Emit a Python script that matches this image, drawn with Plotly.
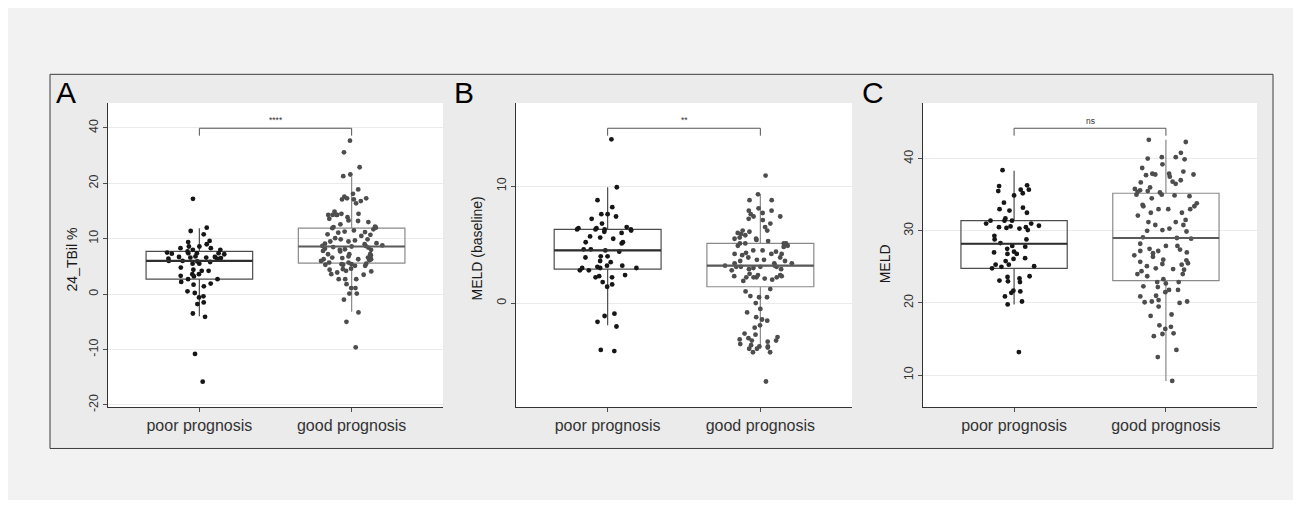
import plotly.graph_objects as go

# ---------------- data ----------------
categories = ["poor prognosis", "good prognosis"]

# Panel A: 24_TBil %
a_poor = [17.2, 12.0, 11.4, 10.8, 9.6, 9.4, 9.0, 8.6, 8.3, 8.6, 8.3, 8.0, 8.0, 7.5, 7.7,
          7.4, 7.3, 7.4, 7.2, 7.4, 6.8, 6.7, 6.5, 6.4, 6.6, 6.7, 6.6, 6.4, 5.9, 6.0,
          6.0, 5.5, 5.5, 5.8, 4.8, 4.2, 4.2, 4.4, 3.6, 3.6, 3.3, 3.2, 2.7, 2.7, 2.2,
          1.9, 1.4, 1.7, 0.5, 0.2, -0.6, -1.5, -0.4, -1.8, -3.5, -4.1, -10.8, -15.8]
a_good = [27.7, 25.6, 22.9, 21.6, 21.3, 18.9, 18.1, 17.6, 17.1, 17.3, 17.3, 17.1, 16.8,
          16.4, 14.9, 14.5, 14.5, 14.3, 14.3, 13.9, 14.3, 14.3, 13.3, 13.0, 13.6, 13.2,
          12.2, 12.6, 12.1, 11.7, 12.0, 11.9, 11.5, 11.1, 11.2, 10.8, 10.7, 11.3, 10.5,
          10.1, 9.9, 9.9, 9.7, 9.5, 9.1, 9.2, 9.5, 9.0, 8.6, 8.8, 8.5, 8.7, 8.4, 8.7,
          8.0, 7.8, 8.0, 7.7, 8.1, 8.2, 7.2, 7.0, 7.2, 6.8, 7.2, 6.6, 6.6, 6.3, 6.1,
          6.3, 6.5, 6.3, 6.0, 5.7, 5.7, 5.5, 5.4, 5.3, 5.4, 5.1, 5.3, 5.1, 4.2, 4.1,
          4.6, 4.4, 4.5, 3.9, 3.6, 3.5, 2.7, 2.7, 2.7, 1.8, 1.1, 1.1, 0.1, 0.1, -1.0,
          -3.3, -5.0, -9.6]
a_q1 = [2.7, 5.6]
a_median = [6.0, 8.6]
a_q3 = [7.7, 11.9]
a_lower = [-4.0, -3.2]
a_upper = [11.9, 21.2]
a_tickvals = [-20, -10, 0, 10, 20, 30]
a_ticktext = ["-20", "-10", "0", "10", "20", "40"]

# Panel B: MELD (baseline)
b_poor = [14.0, 9.9, 8.8, 8.2, 7.6, 7.6, 7.4, 7.2, 6.8, 6.5, 6.3, 6.3, 6.2, 6.3, 6.3,
          6.4, 6.4, 6.1, 6.0, 5.7, 5.5, 5.6, 5.2, 5.2, 5.1, 4.6, 4.5, 4.6, 4.4, 4.0,
          4.0, 3.9, 3.6, 3.5, 3.2, 3.2, 3.1, 2.8, 3.0, 3.0, 2.8, 3.0, 2.4, 2.3, 2.2,
          2.2, 1.8, 1.6, 1.4, -0.9, -1.1, -1.6, -2.0, -4.1, -4.0]
b_good = [10.9, 9.3, 8.8, 8.8, 8.1, 7.9, 7.9, 7.7, 7.6, 7.4, 7.4, 7.2, 7.1, 6.8, 6.5,
          6.2, 6.2, 6.1, 6.0, 5.9, 5.8, 5.5, 5.5, 5.4, 5.6, 5.3, 5.1, 5.1, 5.1, 4.9,
          5.1, 4.9, 4.8, 4.5, 4.4, 4.2, 4.1, 4.3, 4.2, 4.5, 4.2, 3.9, 3.9, 3.7, 3.7,
          3.4, 3.6, 3.6, 3.4, 3.4, 3.2, 3.2, 3.1, 2.9, 3.1, 3.0, 2.9, 3.1, 3.1, 2.8,
          2.4, 2.5, 2.4, 2.2, 2.3, 2.2, 2.3, 2.2, 2.1, 1.9, 2.0, 2.2, 1.2, 1.0, 0.6,
          0.5, 0.5, 0.0, -0.5, -0.8, -1.2, -1.5, -1.4, -1.9, -2.1, -2.6, -2.7, -2.9,
          -3.0, -3.1, -3.2, -3.2, -3.3, -3.5, -3.6, -3.8, -3.9, -4.2, -3.7, -3.7,
          -3.9, -4.2, -6.7]
b_q1 = [2.9, 1.4]
b_median = [4.5, 3.2]
b_q3 = [6.3, 5.1]
b_lower = [-1.9, -3.9]
b_upper = [9.9, 9.3]
b_tickvals = [0, 10]
b_ticktext = ["0", "10"]

# Panel C: MELD
c_poor = [38.4, 36.3, 36.2, 35.7, 35.2, 35.7, 35.5, 34.9, 33.9, 33.2, 33.0, 32.8, 32.5,
          31.7, 31.4, 31.4, 31.0, 31.4, 31.0, 30.5, 30.7, 30.6, 30.4, 30.5, 30.3, 30.1,
          29.3, 28.8, 28.8, 28.3, 27.8, 27.5, 27.9, 27.1, 26.8, 27.0, 26.8, 26.1, 26.2,
          25.8, 25.3, 25.3, 25.1, 24.8, 25.0, 23.7, 23.6, 23.4, 23.1, 23.0, 22.9, 21.6,
          21.7, 21.4, 20.9, 20.2, 19.8, 13.2]
c_good = [42.6, 42.3, 40.8, 40.2, 40.2, 40.0, 39.9, 39.2, 38.7, 38.2, 37.8, 37.9, 37.9,
          37.8, 37.7, 37.5, 37.0, 36.8, 36.7, 36.5, 36.0, 35.8, 35.6, 35.5, 35.3, 35.4,
          34.8, 34.9, 35.0, 35.0, 34.5, 33.8, 33.6, 33.4, 33.4, 33.0, 33.0, 33.0, 32.5,
          32.5, 32.1, 31.5, 31.2, 31.2, 30.8, 30.8, 30.3, 30.1, 30.0, 29.9, 29.1, 29.0,
          28.9, 28.2, 27.9, 27.9, 27.5, 27.2, 27.4, 27.0, 27.2, 26.9, 26.6, 26.4, 25.9,
          26.0, 25.7, 25.4, 25.5, 25.3, 25.1, 24.8, 24.7, 24.6, 24.4, 24.0, 24.0, 23.7,
          23.3, 22.9, 22.9, 22.7, 22.2, 21.8, 21.5, 22.3, 21.8, 21.0, 20.9, 20.4, 20.0,
          20.2, 20.1, 20.2, 19.5, 18.4, 18.2, 16.9, 16.7, 16.4, 15.8, 15.7, 15.4, 13.5,
          12.5, 9.2]
c_q1 = [24.8, 23.1]
c_median = [28.2, 29.0]
c_q3 = [31.4, 35.2]
c_lower = [19.8, 9.2]
c_upper = [38.3, 42.6]
c_tickvals = [10, 20, 30, 40]
c_ticktext = ["10", "20", "30", "40"]

panel_letters = ["A", "B", "C"]
y_titles = ["24_TBil %", "MELD (baseline)", "MELD"]
sig_labels = ["****", "**", "ns"]

# ---------------- styling / layout ----------------
OFF = 8                      # default page margin around the plot div
W, H = 1301 - OFF, 508 - 2 * OFF
FONT = "Liberation Sans, Arial, Helvetica, sans-serif"
point_colors = ["#161616", "#4d4d4d"]
box_colors = ["#4d4d4d", "#8a8a8a"]
median_colors = ["#2e2e2e", "#5a5a5a"]

def px_x(p):
    return (p - OFF) / W

def px_y(p):
    return 1 - (p - OFF) / H

x_domains = [(108, 443), (516, 852), (923, 1257)]
y_domain = [px_y(411), px_y(104)]
y_ranges = [[-20.36, 34.5], [-8.87, 17.1], [5.6, 47.7]]
title_pos = [(72, 262), (477, 251), (885, 267)]
letter_pos = [54, 452, 860]

panels = [
    (a_poor, a_good, a_q1, a_median, a_q3, a_lower, a_upper, a_tickvals, a_ticktext),
    (b_poor, b_good, b_q1, b_median, b_q3, b_lower, b_upper, b_tickvals, b_ticktext),
    (c_poor, c_good, c_q1, c_median, c_q3, c_lower, c_upper, c_tickvals, c_ticktext),
]

fig = go.Figure()
shapes = [
    dict(type="rect", xref="paper", yref="paper", x0=0, x1=1, y0=0, y1=px_y(10),
         fillcolor="#f2f2f2", line=dict(width=0), layer="below"),
    dict(type="rect", xref="paper", yref="paper", x0=px_x(50), x1=px_x(1273),
         y0=px_y(453), y1=px_y(75), fillcolor="#ebebeb",
         line=dict(color="#3c3c3c", width=1), layer="below"),
]
for d0, d1 in x_domains:
    shapes.append(dict(type="rect", xref="paper", yref="paper", x0=px_x(d0), x1=px_x(d1),
                       y0=y_domain[0], y1=y_domain[1], fillcolor="#ffffff",
                       line=dict(width=0), layer="below"))
annotations = []
layout_axes = {}

for i, (poor, good, q1, med, q3, lo, up, tv, tt) in enumerate(panels):
    n = "" if i == 0 else str(i + 1)
    xa, ya = "x" + n, "y" + n
    groups = [poor, good]
    for j, cat in enumerate(categories):
        fig.add_trace(go.Box(
            x=[cat], q1=[q1[j]], median=[med[j]], q3=[q3[j]],
            lowerfence=[lo[j]], upperfence=[up[j]], boxpoints=False,
            width=0.7, whiskerwidth=0, fillcolor="rgba(0,0,0,0)",
            line=dict(color=box_colors[j], width=1.2),
            xaxis=xa, yaxis=ya, hoverinfo="skip"))
        fig.add_trace(go.Box(
            x=[cat] * len(groups[j]), y=groups[j], boxpoints="all", jitter=0.68,
            pointpos=0, width=0.7, fillcolor="rgba(0,0,0,0)",
            line=dict(color="rgba(0,0,0,0)", width=0),
            marker=dict(color=point_colors[j], size=4.8, line=dict(width=0)),
            hoveron="points", xaxis=xa, yaxis=ya))
        shapes.append(dict(type="line", xref=xa, yref=ya, x0=j - 0.35, x1=j + 0.35,
                           y0=med[j], y1=med[j],
                           line=dict(color=median_colors[j], width=2.2), layer="above"))
    # significance bracket
    yb, yt = px_y(137), px_y(129.5)
    for x0, x1, y0, y1 in [(0, 1, yt, yt), (0, 0, yb, yt), (1, 1, yb, yt)]:
        shapes.append(dict(type="line", xref=xa, yref="paper", x0=x0, x1=x1, y0=y0, y1=y1,
                           line=dict(color="#555555", width=1)))
    annotations.append(dict(xref=xa, yref="paper", x=0.5, y=px_y(122.5 if i == 2 else 121),
                            text=sig_labels[i], showarrow=False,
                            font=dict(family=FONT, size=8.5, color="#333333"),
                            xanchor="center", yanchor="middle"))
    # panel letter
    annotations.append(dict(xref="paper", yref="paper", x=px_x(letter_pos[i]), y=px_y(93),
                            text=panel_letters[i], showarrow=False,
                            font=dict(family=FONT, size=30, color="#000000"),
                            xanchor="left", yanchor="middle"))
    # y axis title
    tx, ty = title_pos[i]
    annotations.append(dict(xref="paper", yref="paper", x=px_x(tx), y=px_y(ty),
                            text=y_titles[i], textangle=-90, showarrow=False,
                            font=dict(family=FONT, size=14, color="#1a1a1a"),
                            xanchor="center", yanchor="middle"))

    d0, d1 = x_domains[i]
    layout_axes["xaxis" + n] = dict(
        domain=[px_x(d0), px_x(d1)], anchor=ya, type="category",
        categoryorder="array", categoryarray=categories, range=[-0.6, 1.6],
        showgrid=False, zeroline=False, showline=True, linecolor="#333333", linewidth=1,
        ticks="outside", ticklen=4, tickcolor="#4d4d4d", tickwidth=1,
        tickfont=dict(family=FONT, size=16, color="#333333"), fixedrange=True)
    layout_axes["yaxis" + n] = dict(
        domain=y_domain, anchor=xa, range=y_ranges[i], tickmode="array",
        tickvals=tv, ticktext=tt, tickangle=-90,
        showgrid=True, gridcolor="#ebebeb", gridwidth=1, zeroline=False,
        showline=True, linecolor="#333333", linewidth=1,
        ticks="outside", ticklen=4, tickcolor="#4d4d4d", tickwidth=1,
        tickfont=dict(family=FONT, size=12.5, color="#333333"), fixedrange=True)

fig.update_layout(
    width=W, height=H, margin=dict(l=0, r=0, t=0, b=0), autosize=False,
    paper_bgcolor="#f2f2f2", plot_bgcolor="rgba(0,0,0,0)", showlegend=False,
    boxmode="overlay", shapes=shapes, annotations=annotations,
    font=dict(family=FONT), **layout_axes)

fig.write_html("out.html")
